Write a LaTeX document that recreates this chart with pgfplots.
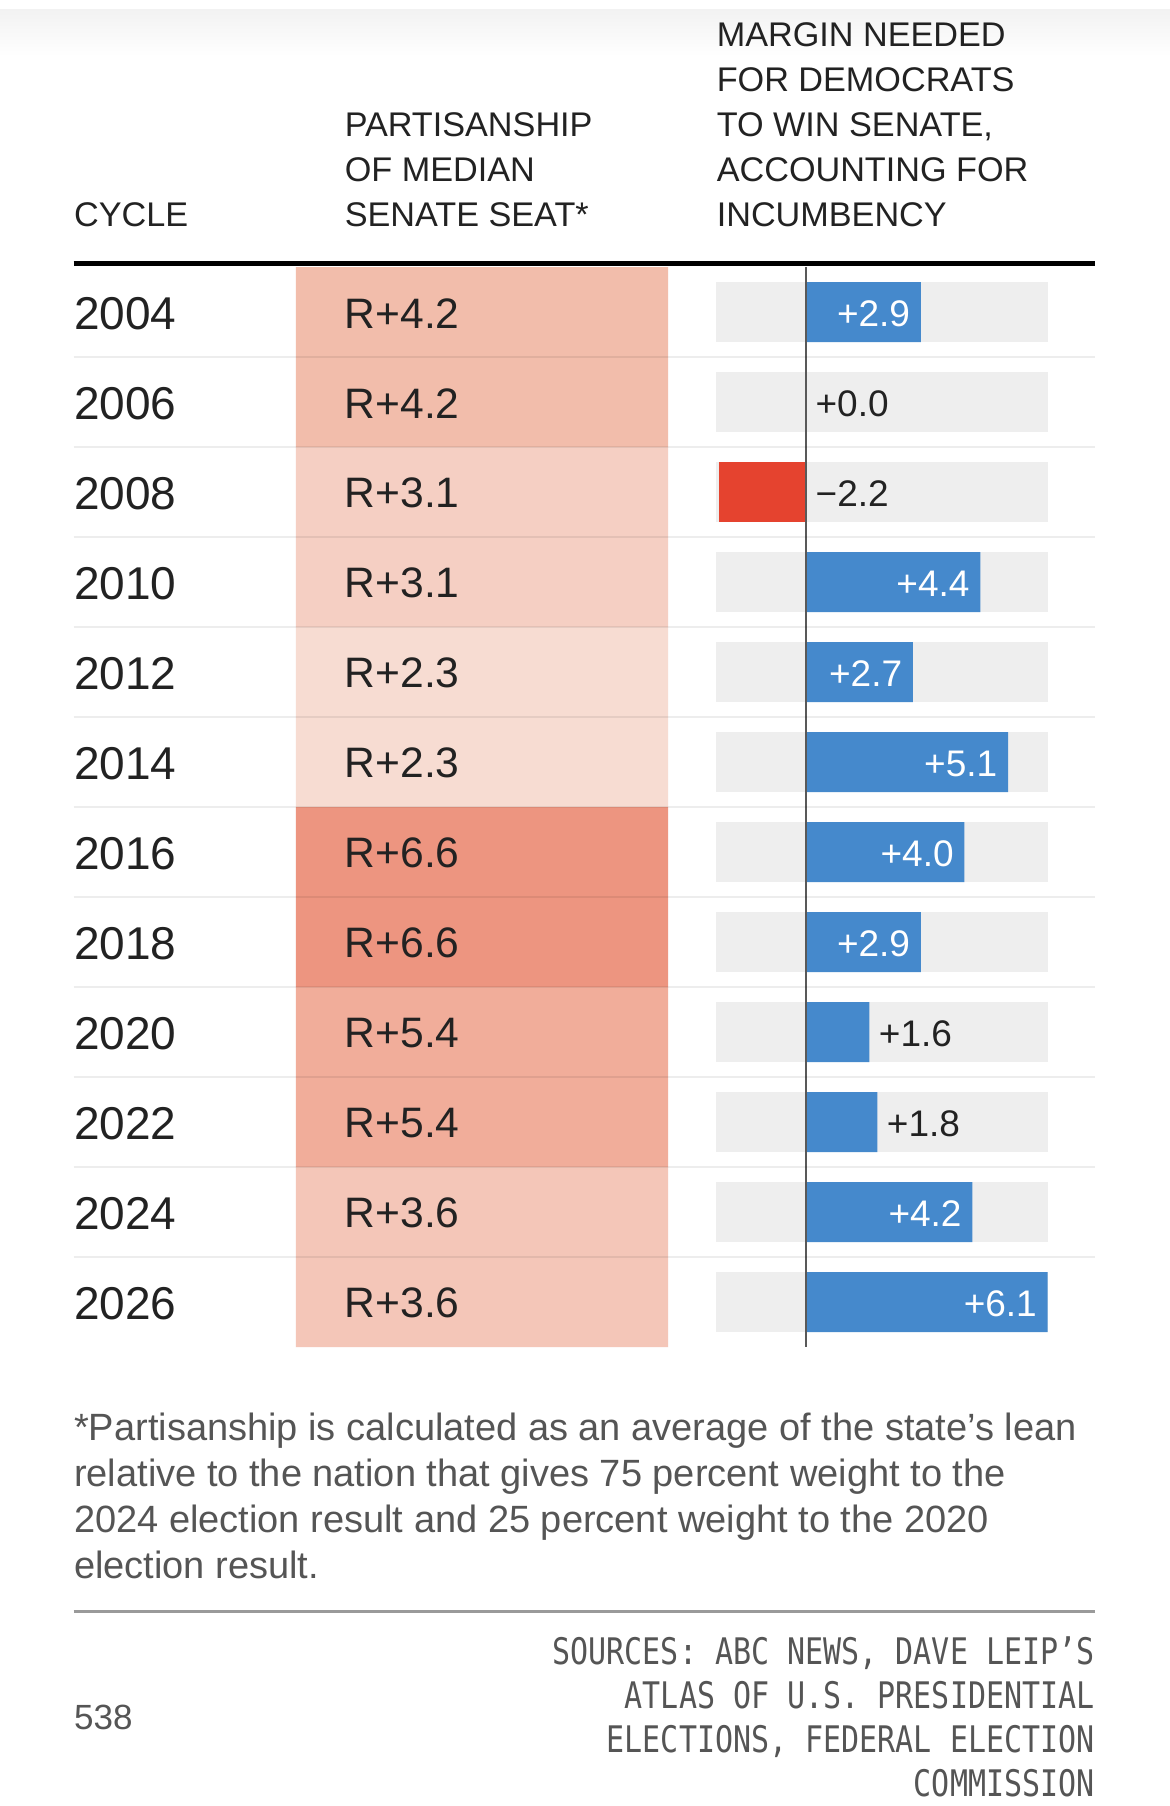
\documentclass[border=0pt]{standalone}
\usepackage{pgfplots}
\pgfplotsset{compat=1.18}
\usepackage{fontspec}
\setmainfont{Liberation Sans}
\newfontfamily\monof[FakeStretch=0.82]{DejaVu Sans Mono}

\definecolor{txt}{HTML}{222222}
\definecolor{note}{HTML}{555555}
\definecolor{bggray}{HTML}{EEEEEE}
\definecolor{dblue}{HTML}{4589CC}
\definecolor{rred}{HTML}{E5432F}
\definecolor{rulegray}{HTML}{9A9A9A}
\definecolor{p42}{HTML}{F2BDAB}
\definecolor{p31}{HTML}{F5CFC3}
\definecolor{p23}{HTML}{F7DCD2}
\definecolor{p66}{HTML}{ED9580}
\definecolor{p54}{HTML}{F1AD9A}
\definecolor{p36}{HTML}{F4C6B8}

\newcommand{\hfont}{\fontsize{17.1}{20}\selectfont}
\newcommand{\rowfont}{\fontsize{23}{26}\selectfont}
\newcommand{\partfont}{\fontsize{21.3}{26}\selectfont}
\newcommand{\barfont}{\fontsize{18.5}{22}\selectfont}
\newcommand{\notefont}{\fontsize{19}{23}\selectfont}

\pgfplotsset{
  pinkbar/.style={xbar, fill=#1, draw=none, bar width=45pt,
    nodes near coords, point meta=explicit symbolic,
    every node near coord/.append style={anchor=west, xshift=-161.8pt, yshift=-0.6pt, inner sep=0pt, font=\partfont, text=txt}},
}

\begin{document}
\begin{tikzpicture}
\useasboundingbox (0,0) rectangle (585pt,903pt);
\fill[white] (0,0) rectangle (585pt,903pt);
\shade[top color=black!5, bottom color=white] (0,875pt) rectangle (585pt,898pt);

% headers
\begin{scope}[every node/.style={anchor=base west, inner sep=0pt, font=\hfont, text=txt}]
\node at (36.85pt,789.6pt) {CYCLE};
\node at (172.2pt,834.6pt) {PARTISANSHIP};
\node at (172.2pt,812.1pt) {OF MEDIAN};
\node at (172.2pt,789.6pt) {SENATE SEAT*};
\node at (358.2pt,879.6pt) {MARGIN NEEDED};
\node at (358.2pt,857.1pt) {FOR DEMOCRATS};
\node at (358.2pt,834.6pt) {TO WIN SENATE,};
\node at (358.2pt,812.1pt) {ACCOUNTING FOR};
\node at (358.2pt,789.6pt) {INCUMBENCY};
\end{scope}

\draw[line width=2.5pt, black] (36.85pt,771.15pt) -- (547.5pt,771.15pt);

% partisanship column
\begin{axis}[at={(148pt,229.5pt)}, anchor=south west, scale only axis,
  width=186pt, height=540pt, xmin=0, xmax=1, ymin=-0.5, ymax=11.5,
  y dir=reverse, clip=false, axis line style={draw=none},
  major tick length=0pt, xtick=\empty,
  ytick={0,...,11},
  yticklabels={2004,2006,2008,2010,2012,2014,2016,2018,2020,2022,2024,2026},
  yticklabel style={anchor=west, inner sep=0pt, xshift=-111.15pt, yshift=-0.6pt, font=\rowfont, text=txt}]
\addplot[pinkbar=p42] coordinates {(1,0) [R+4.2] (1,1) [R+4.2]};
\addplot[pinkbar=p31] coordinates {(1,2) [R+3.1] (1,3) [R+3.1]};
\addplot[pinkbar=p23] coordinates {(1,4) [R+2.3] (1,5) [R+2.3]};
\addplot[pinkbar=p66] coordinates {(1,6) [R+6.6] (1,7) [R+6.6]};
\addplot[pinkbar=p54] coordinates {(1,8) [R+5.4] (1,9) [R+5.4]};
\addplot[pinkbar=p36] coordinates {(1,10) [R+3.6] (1,11) [R+3.6]};
\end{axis}

% margin bars
\begin{axis}[at={(358.15pt,229.5pt)}, anchor=south west, scale only axis,
  width=165.85pt, height=540pt, xmin=-2.265, xmax=6.11, ymin=-0.5, ymax=11.5,
  y dir=reverse, clip=false, axis line style={draw=none},
  major tick length=0pt, xtick=\empty, ytick=\empty]
\pgfplotsinvokeforeach{0,...,11}{
  \fill[bggray] (axis cs:-2.265,#1-0.3333) rectangle (axis cs:6.11,#1+0.3333);
}
\addplot[xbar, fill=dblue, draw=none, bar width=30pt, nodes near coords,
  point meta=explicit symbolic,
  every node near coord/.append style={anchor=east, xshift=-5.2pt, yshift=-0.8pt, inner sep=0pt, text=white, font=\barfont}]
  coordinates {(2.9,0) [+2.9] (4.4,3) [+4.4] (2.7,4) [+2.7] (5.1,5) [+5.1]
               (4.0,6) [+4.0] (2.9,7) [+2.9] (4.2,10) [+4.2] (6.1,11) [+6.1]};
\addplot[xbar, fill=dblue, draw=none, bar width=30pt, nodes near coords,
  point meta=explicit symbolic,
  every node near coord/.append style={anchor=west, xshift=4.6pt, yshift=-0.8pt, inner sep=0pt, text=txt, font=\barfont}]
  coordinates {(0.0,1) [+0.0] (1.6,8) [+1.6] (1.8,9) [+1.8]};
\addplot[xbar, fill=rred, draw=none, bar width=30pt, nodes near coords,
  point meta=explicit symbolic,
  every node near coord/.append style={anchor=west, xshift=48.2pt, yshift=-0.8pt, inner sep=0pt, text=txt, font=\barfont}]
  coordinates {(-2.2,2) [−2.2]};
\draw[line width=1pt, black!65] (axis cs:0,-0.5) -- (axis cs:0,11.5);
\end{axis}

% row separators
\foreach \i in {1,...,11}
  \draw[line width=1.1pt, black, opacity=0.07] ({36.85pt},{769.5pt-45pt*\i}) -- ({547.5pt},{769.5pt-45pt*\i});

% footnote
\begin{scope}[every node/.style={anchor=base west, inner sep=0pt, font=\notefont, text=note}]
\node at (36.85pt,182.7pt) {*Partisanship is calculated as an average of the state’s lean};
\node at (36.85pt,159.65pt) {relative to the nation that gives 75 percent weight to the};
\node at (36.85pt,136.6pt) {2024 election result and 25 percent weight to the 2020};
\node at (36.85pt,113.6pt) {election result.};
\end{scope}

\draw[line width=1.5pt, rulegray] (36.85pt,97pt) -- (547.5pt,97pt);

\node[anchor=base west, inner sep=0pt, font=\fontsize{17.5}{20}\selectfont, text=note] at (36.85pt,38.2pt) {538};

\begin{scope}[every node/.style={anchor=base east, inner sep=0pt, font=\monof\fontsize{18.3}{22}\selectfont, text=note}]
\node at (547.5pt,70.65pt) {SOURCES: ABC NEWS, DAVE LEIP’S};
\node at (547.5pt,48.75pt) {ATLAS OF U.S. PRESIDENTIAL};
\node at (547.5pt,26.85pt) {ELECTIONS, FEDERAL ELECTION};
\node at (547.5pt,5pt) {COMMISSION};
\end{scope}
\end{tikzpicture}
\end{document}
